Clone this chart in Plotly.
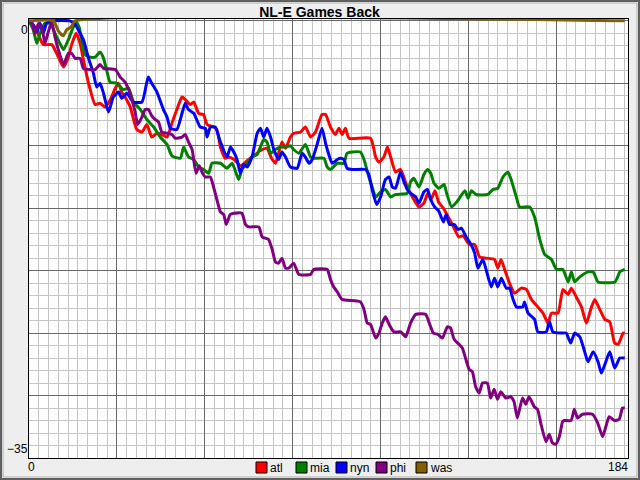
import plotly.graph_objects as go

# games back (x = game number, y = games back)
atl_x = [0, 2, 4.4, 7, 8.5, 10.6, 12.1, 13.1, 14.5, 15.7, 16.7, 18.3, 20.3, 21.8, 23.4, 25, 26.5, 27.5, 28.5, 29.5,
         31.1, 33.1, 34.7, 36.2, 37.7, 39.3, 40.8, 42.4, 43.9, 45.4, 47, 48, 49.5, 50.6, 52.1, 53.6, 54.7, 56.7, 57.7,
         58.8, 60.3, 61.3, 63, 65, 67, 69, 71, 73.1, 74.5, 75.7, 77.7, 78.8, 80.3, 81.3, 83.4, 84.9, 86.5, 88, 90,
         91.1, 92.6, 94.1, 95.2, 96.2, 97.2, 98.3, 104.9, 106.5, 107.5, 109, 110.1, 111.1, 112.6, 114.1, 116.2, 118.2,
         119.8, 121.3, 122.5, 123.5, 124.7, 125.8, 127.3, 129.2, 130.6, 132, 133.3, 135.3, 136.9, 138.4, 140.4, 143,
         144, 145, 146.1, 147.6, 149.2, 151.2, 152.8, 154.3, 156.3, 157.9, 159.4, 160.5, 162.5, 164, 165.6, 166.6,
         168.1, 169.7, 171.2, 172.8, 173.8, 175.3, 176.9, 178.4, 179.9, 181, 182.5, 183]
atl_y = [0, -0.6, -1.9, -1.9, -2.6, -3.7, -2.9, -1.9, -1.0, -1.8, -3.1, -5.0, -6.7, -6.6, -6.9, -6.3, -5.4, -5.0, -5.7, -6.1,
         -6.9, -8.7, -8.9, -8.3, -9.3, -9.0, -9.1, -9.3, -8.2, -7.1, -6.1, -6.3, -6.7, -6.5, -7.4, -7.5, -8.3, -8.5, -8.7,
         -10.1, -11.0, -10.9, -11.1, -11.6, -11.2, -10.8, -10.4, -10.2, -11.0, -11.4, -9.7, -10.2, -9.3, -9.0, -8.9, -8.5,
         -9.3, -8.9, -7.5, -7.5, -8.5, -9.1, -8.6, -9.1, -8.6, -9.4, -9.4, -10.9, -11.3, -10.9, -10.1, -10.9, -12.1, -11.9,
         -13.3, -14.3, -14.9, -14.6, -13.8, -14.3, -13.6, -14.5, -15.0, -15.9, -16.6, -17.3, -17.2, -17.9, -17.9, -18.9,
         -19.0, -19.1, -19.8, -19.1, -19.9, -21.0, -21.8, -21.4, -21.5, -22.3, -22.9, -23.4, -24.2, -23.4, -23.4, -21.5,
         -21.9, -21.4, -22.1, -22.9, -24.2, -22.9, -22.3, -23.1, -23.9, -24.1, -25.8, -25.9, -25.0, -25.0]

mia_x = [0, 1.3, 2.4, 3.4, 4.9, 6.5, 8, 9.5, 10.6, 12.1, 13.6, 14.5, 15.5, 17.2, 18.8, 20.3, 21.8, 22.9, 23.9, 24.9, 27,
         29, 30.6, 32.1, 34.2, 36.2, 38.3, 40.3, 42.4, 43.9, 46.5, 47.5, 49, 50.6, 52.1, 53.6, 55.2, 56.2, 58.8, 60.8,
         62.4, 64.4, 65.4, 67, 68.5, 70.1, 72.1, 73.1, 74.2, 75.7, 77.2, 78.8, 80.3, 81.3, 82.9, 84.9, 86.5, 87.5, 90.6,
         91.6, 92.6, 94.7, 96.7, 97.7, 99.3, 101.8, 102.9, 104.4, 105.4, 106.5, 108, 109.5, 111.1, 112.6, 116.2, 117.2,
         118.2, 119.8, 121.3, 122.4, 123.4, 124.4, 125.9, 127.5, 128.3, 129.8, 131.4, 133.9, 134.9, 135.9, 137.3, 141,
         142.5, 144, 145.6, 147.1, 148.1, 149.7, 150.7, 153.8, 155.3, 156.9, 158.4, 160.5, 162, 164, 165.6, 166.6, 167.6,
         169.2, 171.7, 173.3, 174.8, 180, 181.5, 183]
mia_y = [0, -0.7, -1.8, -1.0, -0.2, -0.2, -1.0, -1.8, -2.3, -1.5, -0.5, -0.1, -0.6, -2.7, -2.9, -2.9, -2.5, -3.0, -4.0,
         -4.9, -5.0, -5.5, -5.4, -6.5, -7.1, -7.9, -8.5, -9.3, -9.9, -10.8, -11.0, -10.1, -10.9, -11.1, -11.7, -11.9, -12.2,
         -11.4, -11.4, -11.8, -11.4, -12.7, -11.9, -11.4, -10.9, -10.7, -9.5, -9.7, -10.6, -10.3, -10.1, -10.1, -10.0,
         -10.3, -10.6, -9.9, -10.9, -11.0, -11.0, -11.7, -11.9, -11.4, -11.4, -10.6, -10.5, -10.5, -11.1, -12.5, -13.3,
         -14.1, -13.7, -13.5, -14.1, -13.9, -13.8, -12.9, -12.6, -13.3, -12.3, -11.9, -12.2, -13.0, -13.4, -13.1, -13.8,
         -14.9, -14.5, -13.6, -14.2, -13.6, -13.9, -13.9, -13.5, -13.4, -12.5, -12.1, -12.7, -14.1, -14.9, -14.9, -15.7,
         -17.5, -18.7, -19.1, -19.9, -19.9, -20.9, -20.1, -20.9, -20.5, -20.1, -20.1, -20.9, -20.9, -20.1, -19.9]

nyn_x = [0, 1.3, 2.4, 3.4, 4.4, 5.4, 7, 12.6, 14.2, 15.7, 16.7, 18.3, 19.8, 20.8, 21.8, 22.9, 24.4, 25.9, 27.5, 28.5, 30,
         32.1, 34.7, 36.2, 36.7, 37.7, 39.3, 41.3, 42.4, 43.4, 45.4, 47, 48, 49, 50.6, 52.6, 54.2, 54.7, 55.7, 57.2, 58.8,
         60.8, 61.9, 62.9, 63.9, 64.9, 65.9, 67, 68.5, 70.1, 71.1, 72.1, 73.1, 74.2, 75.2, 76.7, 77.7, 78.8, 80.3, 82.4,
         83.9, 84.9, 86, 87, 88.5, 90, 91.1, 92.1, 93.1, 94.7, 95.7, 96.7, 97.7, 99.3, 103.4, 104.4, 105.4, 106.8, 108,
         109.5, 110.6, 111.6, 112.6, 114.1, 115.2, 116.2, 117.2, 118.8, 119.8, 121.3, 122.4, 123.4, 124.6, 125.8, 127.3,
         128.1, 129.2, 130.7, 131.7, 132.8, 134.3, 135.8, 136.9, 137.9, 139.4, 140.4, 142, 143, 144, 145.1, 146.6, 147.6,
         148.7, 149.7, 151.7, 152.2, 153.3, 155.3, 156.3, 158.9, 159.9, 160.9, 163.5, 165, 166.4, 167.6, 169.2, 170.7,
         171.7, 173.3, 174.8, 175.8, 176.9, 178.4, 179.9, 181.5, 183]
nyn_y = [0, -0.3, -0.9, -0.2, -1.0, -0.2, 0, 0, -0.3, -1.0, -1.5, -3.0, -4.2, -5.3, -5.0, -5.8, -7.3, -6.1, -5.7, -6.2, -5.8,
         -6.5, -6.5, -4.9, -4.5, -5.0, -5.7, -7.1, -7.7, -8.6, -8.7, -7.4, -6.6, -7.1, -7.4, -8.5, -8.6, -9.3, -8.5, -8.5,
         -9.7, -10.9, -10.1, -10.5, -11.1, -12.2, -11.5, -11.7, -10.9, -9.0, -8.6, -9.3, -8.6, -9.3, -10.3, -11.1, -10.5,
         -10.9, -11.7, -11.8, -10.6, -10.9, -11.4, -11.1, -9.9, -8.6, -9.8, -10.7, -11.4, -11.1, -11.0, -11.1, -11.8,
         -11.9, -11.9, -12.3, -13.5, -14.7, -14.1, -12.7, -12.5, -13.3, -13.4, -12.1, -12.9, -13.5, -13.8, -14.1, -14.6,
         -13.7, -13.5, -14.3, -14.9, -15.2, -16.1, -15.5, -16.3, -16.3, -16.7, -16.6, -17.3, -17.9, -18.6, -19.8, -19.1,
         -19.9, -21.3, -20.6, -21.3, -20.6, -21.4, -21.4, -22.3, -22.9, -22.9, -22.5, -23.4, -23.9, -24.9, -24.9, -24.1,
         -24.9, -25.0, -25.0, -25.8, -25.0, -25.3, -26.5, -27.3, -26.5, -27.3, -28.2, -27.5, -26.5, -27.8, -27.0, -27.0]

phi_x = [0, 1, 1.8, 2.9, 4, 4.9, 5.9, 7, 8, 9, 10.6, 12.1, 13.1, 14.2, 15.7, 16.7, 18.3, 20.3, 21.8, 22.9, 26.5, 28, 29.5,
         30.6, 31.6, 32.6, 33.4, 34.7, 35.7, 36.7, 37.7, 38.8, 39.8, 40.8, 42.4, 43.9, 44.9, 47, 48, 49, 50.1, 51.3, 52.3,
         53.3, 54.2, 55.7, 56.7, 57.7, 58.8, 59.8, 60.6, 61.8, 62.9, 65.4, 66.5, 67.5, 70.6, 71.6, 72.6, 73.6, 74.7, 75.7,
         76.7, 77.7, 78.8, 79.8, 81.3, 82.9, 86.5, 87.5, 91.6, 92.6, 93.6, 94.7, 96.2, 101.8, 102.9, 103.9, 104.9, 106.5,
         107.5, 108.5, 109.5, 110.6, 112.1, 114.2, 115.7, 117.2, 118.8, 121.8, 123.1, 124.2, 125.6, 127, 128.5, 129.5,
         130.6, 132.1, 133.1, 134.2, 135.2, 136.2, 137.2, 138.3, 139.3, 140.8, 141.8, 142.9, 143.9, 144.9, 146.5, 148,
         149, 150, 151.6, 152.6, 153.6, 155.2, 156.2, 157.2, 158.8, 159.8, 160.8, 161.8, 162.9, 163.9, 164.4, 166.5,
         167.5, 168.5, 170, 173.1, 174.7, 176.2, 177.2, 178.2, 179.8, 181.3, 182.3, 183]
phi_y = [0, -0.2, -1.0, -0.2, -0.6, -1.8, -0.9, -0.1, -1.3, -2.3, -3.5, -2.6, -2.6, -3.0, -3.0, -3.8, -3.9, -3.9, -3.5,
         -3.8, -3.9, -4.5, -4.9, -5.5, -6.3, -7.3, -8.3, -7.7, -7.1, -7.1, -7.6, -7.9, -8.1, -8.9, -9.0, -9.1, -9.4, -9.3,
         -9.1, -9.7, -10.3, -12.2, -11.6, -12.2, -12.5, -12.5, -13.3, -14.3, -15.3, -15.5, -16.3, -15.5, -15.4, -15.4,
         -16.3, -16.5, -16.5, -17.3, -17.4, -17.5, -18.3, -19.3, -19.4, -19.0, -19.8, -19.8, -19.4, -20.3, -20.3, -19.9,
         -19.9, -20.7, -21.3, -21.7, -22.3, -22.5, -23.1, -24.2, -24.3, -25.4, -25.0, -24.2, -23.7, -24.3, -24.9, -24.9,
         -25.3, -24.2, -23.5, -23.5, -24.3, -25.0, -25.1, -25.4, -24.5, -24.6, -25.5, -25.9, -26.2, -27.1, -27.9, -28.1,
         -29.3, -29.8, -29.0, -29.0, -30.2, -29.5, -30.3, -29.7, -30.2, -30.1, -30.5, -31.8, -30.2, -30.7, -30.1, -30.9,
         -31.1, -32.2, -33.7, -33.1, -33.8, -33.9, -33.3, -32.1, -32.0, -32.0, -31.1, -31.8, -31.5, -31.5, -32.2, -33.3,
         -32.5, -31.7, -32.0, -31.9, -31.0, -31.0]

was_x = [0, 7.5, 9, 10.5, 11.6, 12.9, 14.2, 183]
was_y = [0, 0, -0.8, -1.2, -0.7, -0.5, 0, 0]

teams = ["atl", "mia", "nyn", "phi", "was"]
colors = ["#ff0000", "#008000", "#0000ff", "#800080", "#806000"]
series = [(atl_x, atl_y), (mia_x, mia_y), (nyn_x, nyn_y), (phi_x, phi_y), (was_x, was_y)]

x_tick_vals = [0, 184]
x_tick_text = ["0", "184"]
y_tick_vals = [0, -35]
y_tick_text = ["0", "\u221235"]

W, H = 640, 480
L, R, T, B = 29, 12, 19, 22
PW, PH = W - L - R, H - T - B


def px(x):
    return (x - L) / PW


def py(y):
    return (H - B - y) / PH


fig = go.Figure()
for (xs, ys), name, c in zip(series, teams, colors):
    fig.add_trace(go.Scatter(x=xs, y=ys, name=name, mode="lines",
                             line=dict(color=c, width=3, shape="spline", smoothing=0.5),
                             showlegend=False, hoverinfo="skip"))

fnt = dict(family="Liberation Sans, Arial, sans-serif", size=12, color="black")

annos = []
for v, t in zip(x_tick_vals, x_tick_text):
    annos.append(dict(x=v, y=0, xref="x", yref="paper", text=t, showarrow=False,
                      xanchor="left" if v == 0 else "right", yanchor="top", font=fnt,
                      xshift=-3 if v == 0 else 2))
for v, t in zip(y_tick_vals, y_tick_text):
    annos.append(dict(x=0, y=v, xref="paper", yref="y", text=t, showarrow=False,
                      xanchor="right", yanchor="top" if v == 0 else "bottom", font=fnt, xshift=1))

# hand-made legend with bordered squares
shapes = []
for i, (name, c) in enumerate(zip(teams, colors)):
    x0 = 256 + 40 * i
    shapes.append(dict(type="rect", xref="paper", yref="paper", x0=px(x0), x1=px(x0 + 11),
                       y0=py(473), y1=py(462), fillcolor=c, line=dict(color="black", width=1)))
    annos.append(dict(x=px(x0 + 12), y=py(467.5), xref="paper", yref="paper", text=name,
                      showarrow=False, xanchor="left", yanchor="middle", font=fnt))

# window frame
shapes.append(dict(type="rect", xref="paper", yref="paper", x0=px(1), x1=px(639), y0=py(479), y1=py(1),
                   line=dict(color="#606060", width=2), layer="below"))
shapes.append(dict(type="rect", xref="paper", yref="paper", x0=px(3), x1=px(637), y0=py(477), y1=py(3),
                   line=dict(color="#b0b0b0", width=1), layer="below"))

fig.update_layout(
    width=W, height=H,
    margin=dict(l=L, r=R, t=T, b=B),
    paper_bgcolor="#eeeeee", plot_bgcolor="white",
    title=dict(text="<b>NL-E Games Back</b>", x=px(328), xanchor="center", y=1 - 12.5 / H, yanchor="middle",
               font=dict(family="Liberation Sans, Arial, sans-serif", size=14, color="black")),
    showlegend=False,
    annotations=annos, shapes=shapes,
)
axis_style = dict(showgrid=True, gridcolor="#686868", gridwidth=1,
                  showticklabels=False, ticks="", zeroline=False,
                  showline=True, mirror=True, linecolor="black", linewidth=1,
                  layer="below traces")
fig.update_xaxes(range=[0, 184], tick0=0, dtick=27,
                 minor=dict(tick0=0, dtick=3, showgrid=True, gridcolor="#c4c4c4", gridwidth=1), **axis_style)
# a little headroom above 0 so the leader's line at 0 is not clipped away
fig.update_yaxes(range=[-35, 0.15], tick0=0, dtick=5,
                 minor=dict(tick0=0, dtick=1, showgrid=True, gridcolor="#c4c4c4", gridwidth=1), **axis_style)

# drop the default page margin so the 640x480 figure sits at the window origin
fig.write_html("out.html", config={"displayModeBar": False},
               post_script="document.body.style.margin='0';document.body.style.overflow='hidden';")
